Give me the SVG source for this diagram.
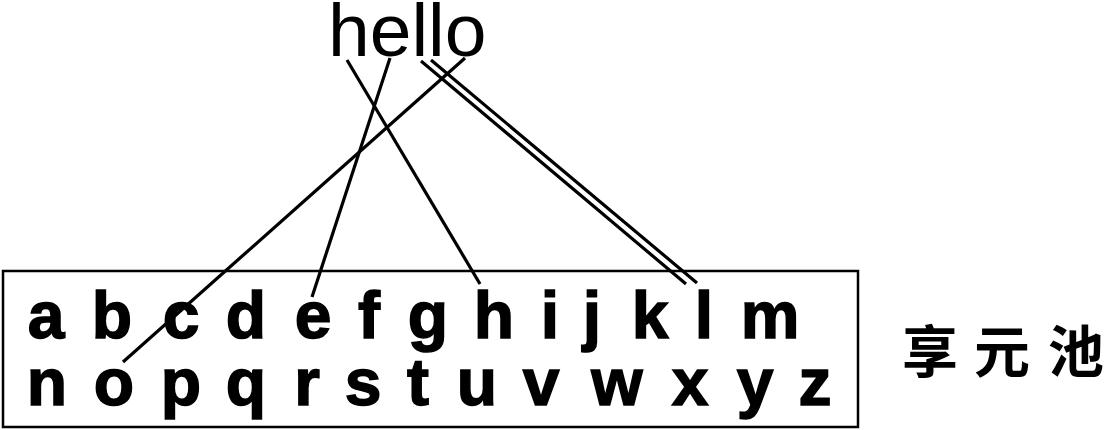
<svg xmlns="http://www.w3.org/2000/svg" width="1107" height="430" viewBox="0 0 1107 430">
<style>
.box{fill:none;stroke:#000;stroke-width:2.5}
.ln{stroke:#000;stroke-width:3.2;stroke-linecap:butt;fill:none}
.hello{font-family:"Liberation Sans",Arial,sans-serif;font-size:75px;fill:#000}
.let{font-family:"Liberation Sans",Arial,sans-serif;font-size:66px;font-weight:bold;fill:#000;stroke:#000;stroke-width:1.5}
.cn{font-family:"Noto Sans CJK SC",sans-serif;font-size:56px;font-weight:bold;fill:#000}
</style>
<rect width="1107" height="430" fill="#fff"/>
<g id="hello"><text class="hello" x="328" y="56">hello</text></g>
<g id="pool">
<rect class="box" x="3" y="271" width="855" height="156"/>
<text class="let" text-anchor="middle" y="338" x="46 112 181 246 313 369 428 494 550 592 650 704 770">abcdefghijklm</text>
<text class="let" text-anchor="middle" y="405" x="47 114 181 246 307 363 418 477 541 617 690 755 815">nopqrstuvwxyz</text>
</g>
<g id="label"><text class="cn" text-anchor="middle" y="372" x="930 1002 1076">享元池</text></g>
<g id="connectors">
<line class="ln" x1="347" y1="60" x2="480" y2="284"/>
<line class="ln" x1="390" y1="58" x2="312" y2="297"/>
<line class="ln" x1="465" y1="58" x2="123" y2="362"/>
<line class="ln" x1="421" y1="61" x2="686" y2="284"/>
<line class="ln" x1="431" y1="60" x2="697" y2="283"/>
</g>
</svg>
